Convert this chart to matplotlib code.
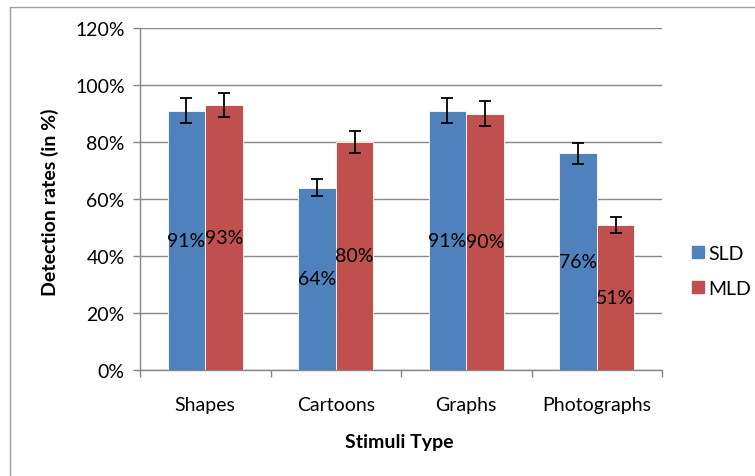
import matplotlib

matplotlib.use("Agg")
import matplotlib.pyplot as plt
import numpy as np
from matplotlib.lines import Line2D

plt.rcParams["font.family"] = ["Lato", "DejaVu Sans"]

categories = ["Shapes", "Cartoons", "Graphs", "Photographs"]
series_names = ["SLD", "MLD"]
sld = [91, 64, 91, 76]
mld = [93, 80, 90, 51]
sld_err = [4.5, 3.0, 4.5, 3.8]
mld_err = [4.3, 3.8, 4.5, 2.8]
yticks = [0, 20, 40, 60, 80, 100, 120]

BLUE = "#4F81BD"
RED = "#C0504D"
GRID = "#868686"
FS = 14

fig = plt.figure(figsize=(7.55, 4.77), dpi=100)
ax = fig.add_axes([140 / 755, 1 - 371 / 477, 522 / 755, 342 / 477])

x = np.arange(len(categories))
w = 0.2875
for vals, errs, color, off, name in [
    (sld, sld_err, BLUE, -w / 2, series_names[0]),
    (mld, mld_err, RED, w / 2, series_names[1]),
]:
    bars = ax.bar(x + off, vals, w, color=color, edgecolor="white", linewidth=0.6,
                  label=name, zorder=3)
    ax.errorbar(x + off, vals, yerr=errs, fmt="none", ecolor="black",
                elinewidth=1.3, capsize=4, capthick=1.3, zorder=4)
    for b, v in zip(bars, vals):
        ax.text(b.get_x() + b.get_width() / 2, v / 2, f"{v}%", ha="center",
                va="center", fontsize=FS, color="black", zorder=5)

ax.set_xlim(-0.5, len(categories) - 0.5)
ax.set_ylim(0, 120)
ax.set_yticks(yticks)
ax.set_yticklabels([f"{t}%" for t in yticks], fontsize=FS)
ax.yaxis.grid(True, color=GRID, linewidth=1.0, zorder=0)
ax.set_axisbelow(True)

ax.set_xticks(x)
ax.set_xticklabels(categories, fontsize=FS)
ax.tick_params(axis="x", length=0, pad=19)
ax.set_xticks(np.arange(len(categories) + 1) - 0.5, minor=True)
ax.tick_params(axis="x", which="minor", length=5, color=GRID, width=1.0)
ax.tick_params(axis="y", length=5, color=GRID, width=1.0, pad=6)

for s in ["top", "right"]:
    ax.spines[s].set_visible(False)
for s in ["left", "bottom"]:
    ax.spines[s].set_color(GRID)
    ax.spines[s].set_linewidth(1.0)

# axis titles placed where the reference has them
fig.text(399 / 755, 1 - 443 / 477, "Stimuli Type", fontsize=FS, fontweight="bold",
         ha="center", va="center")
fig.text(50 / 755, 1 - 202 / 477, "Detection rates (in %)", fontsize=FS, fontweight="bold",
         ha="center", va="center", rotation=90)

handles = [Line2D([], [], marker="s", linestyle="none", markersize=8,
                  markerfacecolor=c, markeredgecolor=c) for c in (BLUE, RED)]
fig.legend(handles, series_names, loc="center left", bbox_to_anchor=(690 / 755, 1 - 272 / 477),
           frameon=False, fontsize=FS, handlelength=0.8, handletextpad=0.15,
           labelspacing=0.9, borderaxespad=0, borderpad=0)

# outer chart frame
fig.add_artist(Line2D([10 / 755, 10 / 755], [0, 1 - 8 / 477], transform=fig.transFigure,
                      color="#A0A0A0", linewidth=1.0))
fig.add_artist(Line2D([10 / 755, 1], [1 - 8 / 477, 1 - 8 / 477], transform=fig.transFigure,
                      color="#A0A0A0", linewidth=1.0))

fig.savefig("out.png", dpi=100)
